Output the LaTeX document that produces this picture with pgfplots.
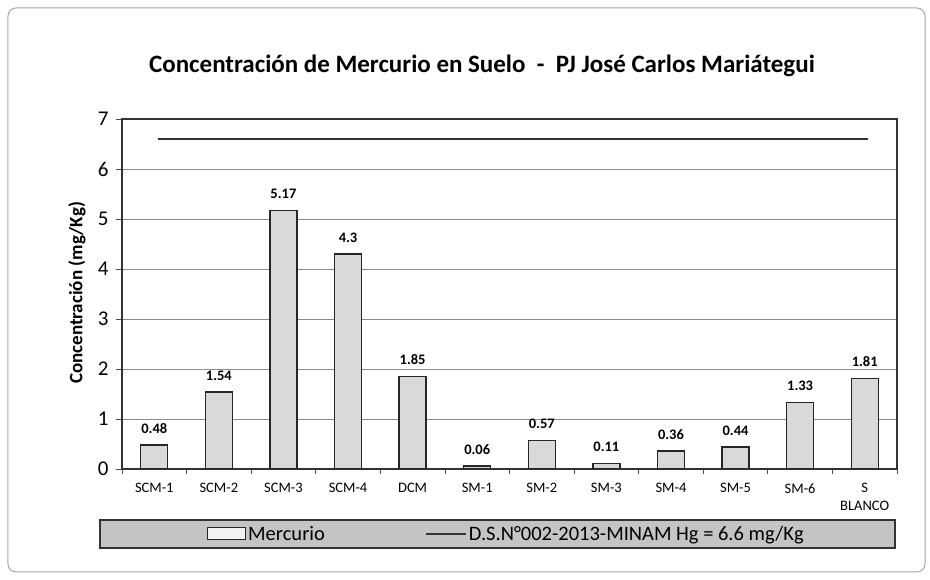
\documentclass[border=0pt]{standalone}
\usepackage{fontspec}
\setmainfont{Carlito}
\usepackage{pgfplots}
\pgfplotsset{compat=1.18}

\definecolor{barfill}{HTML}{D9D9D9}
\definecolor{legfill}{HTML}{C4C4C4}
\definecolor{gridc}{HTML}{8C8C8C}
\definecolor{limc}{HTML}{333333}

\pgfplotsset{
    barleg/.style={legend image code/.code={%
        \draw[##1, line width=1pt, fill=white!90!gray] (0pt,-6pt) rectangle (38pt,6pt);}},
    lineleg/.style={legend image code/.code={%
        \draw[##1, line width=2pt] (0pt,0pt) -- (40pt,0pt);}},
}

\begin{document}
\begin{tikzpicture}
% canvas: 1px = 1pt, origin at the axis' lower left corner
\useasboundingbox (-122pt,-111pt) rectangle (808pt,469pt);
\draw[gray!70, line width=1pt, rounded corners=8pt] (-114pt,-103pt) rectangle (803pt,461pt);
\draw[black!80, fill=legfill, line width=1.2pt] (-22pt,-51pt) rectangle (773pt,-79pt);

\begin{axis}[
    at={(0pt,0pt)}, anchor=south west,
    scale only axis,
    width=775pt, height=350pt,
    xmin=-0.5, xmax=11.5,
    ymin=0, ymax=7,
    ytick={0,1,2,3,4,5,6,7},
    yticklabels={0,1,2,3,4,5,6,7},
    xtick={0,1,2,3,4,5,6,7,8,9,10,11},
    xticklabels={SCM-1,SCM-2,SCM-3,SCM-4,DCM,SM-1,SM-2,SM-3,SM-4,SM-5,SM-6,{S\\[3pt]BLANCO}},
    minor xtick={-0.5,0.5,...,11.5},
    major x tick style={draw=none},
    minor tick length=5pt,
    major tick length=6pt,
    tick align=outside,
    tick pos=left,
    tick style={black!70, line width=0.8pt},
    ymajorgrids,
    grid style={gridc, line width=0.8pt},
    axis line style={black!80, line width=1.2pt},
    yticklabel style={font=\fontsize{21}{23}\selectfont, xshift=-4pt},
    xticklabel style={font=\fontsize{14.5}{15}\selectfont, align=center, yshift=-5pt},
    ylabel={Concentración (mg/Kg)},
    every axis y label/.style={at={(rel axis cs:-0.058,0.503)}, rotate=90, anchor=center,
        font=\bfseries\fontsize{19}{21}\selectfont},
    legend columns=2,
    legend style={draw=none, fill=none, at={(rel axis cs:0.1097,-0.1857)}, anchor=west,
        font=\fontsize{20.5}{22}\selectfont, inner sep=0pt,
        /tikz/every even column/.append style={column sep=98pt}},
]
\addplot[ybar, bar width=27pt, fill=barfill, draw=black!85, line width=1.4pt,
    point meta=explicit symbolic,
    nodes near coords,
    every node near coord/.append style={font=\bfseries\fontsize{14.5}{15}\selectfont, black, yshift=7.5pt},
    barleg]
coordinates {
    (0,0.48) [0.48] (1,1.54) [1.54] (2,5.17) [5.17] (3,4.3) [4.3]
    (4,1.85) [1.85] (5,0.06) [0.06] (6,0.57) [0.57] (7,0.11) [0.11]
    (8,0.36) [0.36] (9,0.44) [0.44] (10,1.33) [1.33] (11,1.81) [1.81]
};
\addlegendentry{Mercurio}

\addplot[limc, line width=2.8pt, mark=none, lineleg]
coordinates {(0.05,6.6) (11.05,6.6)};
\addlegendentry{D.S.N°002-2013-MINAM Hg = 6.6 mg/Kg}
\end{axis}

\node[font=\bfseries\fontsize{25}{27}\selectfont] at (360pt,403pt)
    {Concentración de Mercurio en Suelo\ \ -\ \ PJ José Carlos Mariátegui};
\end{tikzpicture}
\end{document}
